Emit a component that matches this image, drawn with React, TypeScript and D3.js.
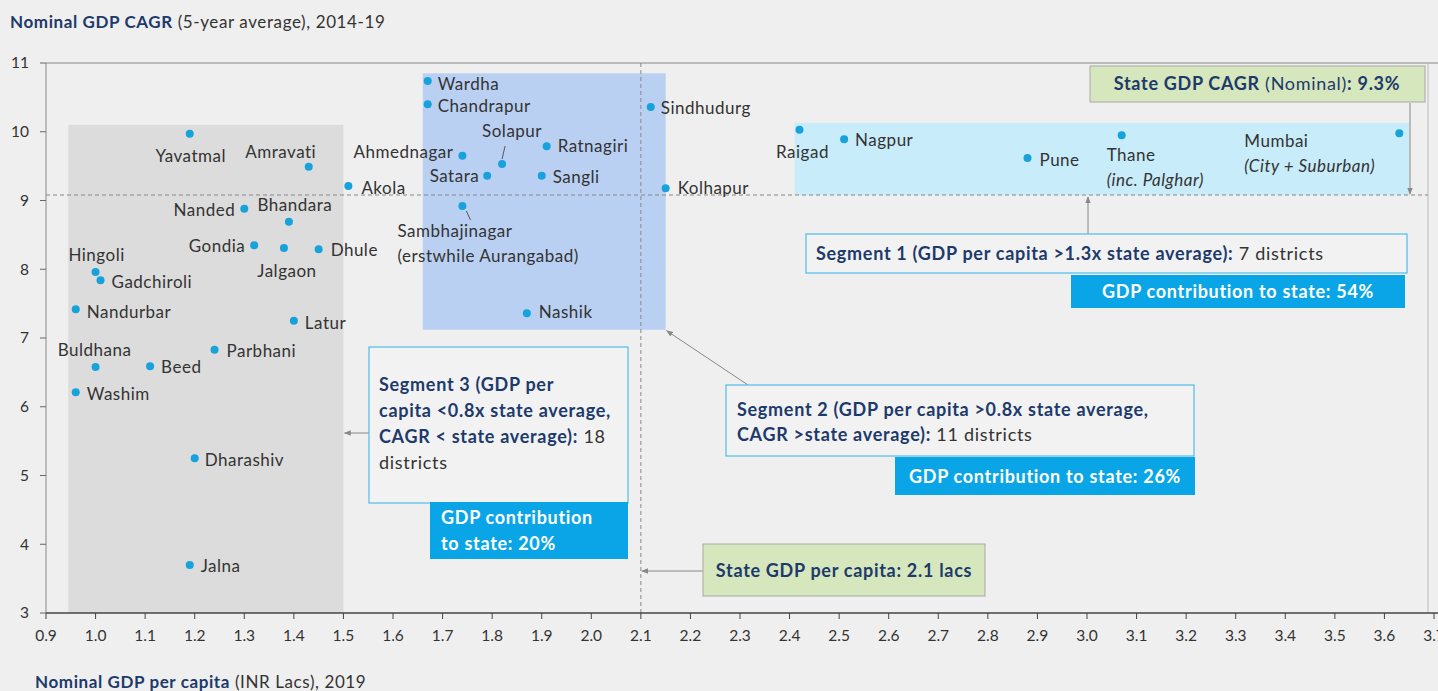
import React from 'react';
import * as d3 from 'd3';

// district data: GDP per capita (INR lacs, 2019) vs nominal GDP CAGR 2014-19
const districts = [
  'Yavatmal', 'Amravati', 'Akola', 'Nanded', 'Bhandara', 'Gondia', 'Jalgaon', 'Dhule',
  'Hingoli', 'Gadchiroli', 'Nandurbar', 'Latur', 'Parbhani', 'Buldhana', 'Beed', 'Washim',
  'Dharashiv', 'Jalna',
  'Wardha', 'Chandrapur', 'Ahmednagar', 'Solapur', 'Satara', 'Ratnagiri', 'Sangli',
  'Sambhajinagar', 'Nashik', 'Sindhudurg', 'Kolhapur',
  'Raigad', 'Nagpur', 'Pune', 'Thane', 'Mumbai',
];
const gdpPerCapita = [
  1.19, 1.43, 1.51, 1.30, 1.39, 1.32, 1.38, 1.45,
  1.00, 1.01, 0.96, 1.40, 1.24, 1.00, 1.11, 0.96,
  1.20, 1.19,
  1.67, 1.67, 1.74, 1.82, 1.79, 1.91, 1.90,
  1.74, 1.87, 2.12, 2.15,
  2.42, 2.51, 2.88, 3.07, 3.63,
];
const cagr = [
  9.97, 9.49, 9.21, 8.88, 8.69, 8.35, 8.31, 8.29,
  7.96, 7.84, 7.42, 7.25, 6.83, 6.58, 6.59, 6.21,
  5.25, 3.70,
  10.74, 10.40, 9.65, 9.53, 9.36, 9.79, 9.36,
  8.92, 7.36, 10.36, 9.18,
  10.03, 9.89, 9.62, 9.95, 9.98,
];
const subLabels: Record<string, string> = {
  Sambhajinagar: '(erstwhile Aurangabad)',
  Thane: '(inc. Palghar)',
  Mumbai: '(City + Suburban)',
};

const xTicks = d3.range(9, 38).map((d) => d / 10);
const yTicks = [3, 4, 5, 6, 7, 8, 9, 10, 11];
const stateCagrLine = 9.08;
const statePerCapita = 2.1;

// segment shading
const segments = [
  { name: 'seg3', x0: 0.945, x1: 1.5, y0: 3, y1: 10.1, fill: '#dcdcdc' },
  { name: 'seg2', x0: 1.66, x1: 2.15, y0: 7.12, y1: 10.85, fill: '#b9d0f2' },
  { name: 'seg1', x0: 2.41, x1: 3.65, y0: 9.08, y1: 10.13, fill: '#c8ecfa' },
];

// label placement relative to each point (pixels)
const labelPos: Record<string, [number, number, string]> = {
  Yavatmal: [1, 22, 'middle'], Amravati: [-28, -15, 'middle'], Akola: [13, 2, 'start'],
  Nanded: [-9, 1, 'end'], Bhandara: [6, -17, 'middle'], Gondia: [-9, 1, 'end'],
  Jalgaon: [3, 23, 'middle'], Dhule: [12, 1, 'start'], Hingoli: [1, -17, 'middle'],
  Gadchiroli: [11, 2, 'start'], Nandurbar: [11, 3, 'start'], Latur: [11, 2, 'start'],
  Parbhani: [12, 1, 'start'], Buldhana: [-1, -17, 'middle'], Beed: [11, 1, 'start'],
  Washim: [11, 2, 'start'], Dharashiv: [10, 2, 'start'], Jalna: [11, 1, 'start'],
  Wardha: [10, 3, 'start'], Chandrapur: [10, 2, 'start'], Ahmednagar: [-9, -4, 'end'],
  Solapur: [10, -33, 'middle'], Satara: [-8, 0, 'end'], Ratnagiri: [11, 0, 'start'],
  Sangli: [11, 1, 'start'], Sambhajinagar: [-65, 25, 'start'], Nashik: [12, -1, 'start'],
  Sindhudurg: [10, 1, 'start'], Kolhapur: [12, 0, 'start'], Raigad: [3, 22, 'middle'],
  Nagpur: [11, 1, 'start'], Pune: [12, 2, 'start'], Thane: [-15, 20, 'start'],
  Mumbai: [-155, 8, 'start'],
};

const W = 1438;
const H = 691;
const NAVY = '#1d3a6b';
const TXT = '#333';
const FONT = 'Lato, "Open Sans", sans-serif';
const BOX_FS = 18;
const BOX_LS = 0.7;

export default function App() {
  const x = d3.scaleLinear().domain([0.9, 3.7]).range([46, 1434]);
  const y = d3.scaleLinear().domain([3, 11]).range([613, 63]);

  const points = districts.map((name, i) => ({ name, px: x(gdpPerCapita[i]), py: y(cagr[i]) }));

  return (
    <div style={{ position: 'absolute', left: 0, top: 0 }}>
      <svg width={W} height={H} style={{ display: 'block', fontFamily: FONT }}>
        <defs>
          <marker id="arr" viewBox="0 0 10 10" refX="9" refY="5" markerWidth="7" markerHeight="7" orient="auto-start-reverse">
            <path d="M0,1 L10,5 L0,9 z" fill="#888" />
          </marker>
        </defs>
        <rect width={W} height={H} fill="#efefef" />

        {/* title */}
        <text x={10} y={28} fontSize={17} letterSpacing={0.6} fill={TXT}>
          <tspan fontWeight="bold" fill={NAVY}>Nominal GDP CAGR</tspan> (5-year average), 2014-19
        </text>

        {/* segment shading */}
        {segments.map((s) => (
          <rect key={s.name} x={x(s.x0)} y={y(s.y1)} width={x(s.x1) - x(s.x0)} height={y(s.y0) - y(s.y1)} fill={s.fill} />
        ))}

        {/* frame */}
        <line x1={x(0.9)} x2={W} y1={y(11)} y2={y(11)} stroke="#888" strokeWidth={1.2} />
        <line x1={1428} x2={1428} y1={y(11)} y2={y(3)} stroke="#bbb" strokeWidth={1} />
        <line x1={x(0.9)} x2={x(0.9)} y1={y(11)} y2={y(3)} stroke="#888" strokeWidth={1} />

        {/* reference lines */}
        <line x1={x(0.9)} x2={1428} y1={y(stateCagrLine)} y2={y(stateCagrLine)} stroke="#888" strokeDasharray="4,3" strokeWidth={1} />
        <line x1={x(statePerCapita)} x2={x(statePerCapita)} y1={y(11)} y2={y(3)} stroke="#888" strokeDasharray="4,3" strokeWidth={1} />

        {/* x axis */}
        <line x1={x(0.9)} x2={W} y1={y(3)} y2={y(3)} stroke="#444" strokeWidth={1.5} />
        {xTicks.map((t) => (
          <g key={t}>
            <line x1={x(t)} x2={x(t)} y1={y(3)} y2={y(3) + 6} stroke="#444" />
            <text x={x(t)} y={641} textAnchor="middle" fontSize={15.5} fill={TXT}>{t.toFixed(1)}</text>
          </g>
        ))}
        {/* y axis */}
        {yTicks.map((t) => (
          <g key={t}>
            <line x1={x(0.9) - 6} x2={x(0.9)} y1={y(t)} y2={y(t)} stroke="#666" />
            <text x={29} y={y(t)} dy="0.35em" textAnchor="end" fontSize={15.5} fill={TXT}>{t}</text>
          </g>
        ))}

        <text x={35} y={688} fontSize={17} letterSpacing={0.6} fill={TXT}>
          <tspan fontWeight="bold" fill={NAVY}>Nominal GDP per capita</tspan> (INR Lacs), 2019
        </text>

        {/* leader lines */}
        <line x1={x(1.82) + 3} y1={y(9.53) - 18} x2={x(1.82)} y2={y(9.53) - 5} stroke="#555" />
        <line x1={x(1.74) + 4} y1={y(8.92) + 5} x2={x(1.74) + 8} y2={y(8.92) + 14} stroke="#555" />

        {/* points & labels */}
        {points.map((p) => {
          const [dx, dy, anchor] = labelPos[p.name];
          const sub = subLabels[p.name];
          return (
            <g key={p.name}>
              <circle cx={p.px} cy={p.py} r={4} fill="#17a2dc" />
              <text x={p.px + dx} y={p.py + dy} dy="0.35em" textAnchor={anchor} fontSize={17} letterSpacing={0.5} fill={TXT}>{p.name}</text>
              {sub && (
                <text x={p.px + dx} y={p.py + dy + 25} dy="0.35em" textAnchor={anchor} fontSize={17} letterSpacing={0.5} fill={TXT}
                  fontStyle={p.name === 'Sambhajinagar' ? 'normal' : 'italic'}>{sub}</text>
              )}
            </g>
          );
        })}

        <g fontSize={BOX_FS} letterSpacing={BOX_LS}>
          {/* State CAGR box */}
          <rect x={1090} y={66} width={335} height={36} fill="#d6e6bd" stroke="#a9a9a9" />
          <text x={1257} y={84} dy="0.35em" textAnchor="middle" fill={NAVY}>
            <tspan fontWeight="bold">State GDP CAGR</tspan> (Nominal)<tspan fontWeight="bold">: 9.3%</tspan>
          </text>
          <line x1={1410} y1={103} x2={1410} y2={y(stateCagrLine) - 1} stroke="#888" markerEnd="url(#arr)" />

          {/* Segment 1 */}
          <line x1={1088} y1={234} x2={1088} y2={y(stateCagrLine) + 2} stroke="#888" markerEnd="url(#arr)" />
          <rect x={806} y={234} width={601} height={39} fill="#f2f2f2" stroke="#4cbfe6" strokeWidth={1.2} />
          <text x={816} y={254} dy="0.35em" fill={TXT}>
            <tspan fontWeight="bold" fill={NAVY}>Segment 1 (GDP per capita &gt;1.3x state average):</tspan> 7 districts
          </text>
          <rect x={1071} y={275} width={334} height={33} fill="#0aa5e6" />
          <text x={1238} y={292} dy="0.35em" textAnchor="middle" fontWeight="bold" fill="#fff">GDP contribution to state: 54%</text>

          {/* Segment 2 */}
          <line x1={748} y1={385} x2={x(2.15) + 1} y2={y(7.12) + 1} stroke="#888" markerEnd="url(#arr)" />
          <rect x={726} y={385} width={468} height={71} fill="#f2f2f2" stroke="#4cbfe6" strokeWidth={1.2} />
          <text x={737} y={410} dy="0.35em" fontWeight="bold" fill={NAVY}>Segment 2 (GDP per capita &gt;0.8x state average,</text>
          <text x={737} y={435} dy="0.35em" fill={TXT}>
            <tspan fontWeight="bold" fill={NAVY}>CAGR &gt;state average):</tspan> 11 districts
          </text>
          <rect x={895} y={457} width={300} height={38} fill="#0aa5e6" />
          <text x={1045} y={477} dy="0.35em" textAnchor="middle" fontWeight="bold" fill="#fff">GDP contribution to state: 26%</text>

          {/* Segment 3 */}
          <line x1={369} y1={433} x2={x(1.5) + 1} y2={433} stroke="#888" markerEnd="url(#arr)" />
          <rect x={369} y={347} width={259} height={156} fill="#f2f2f2" stroke="#4cbfe6" strokeWidth={1.2} />
          <text x={379} y={385} dy="0.35em" fontWeight="bold" fill={NAVY}>Segment 3 (GDP per</text>
          <text x={379} y={411} dy="0.35em" fontWeight="bold" fill={NAVY}>capita &lt;0.8x state average,</text>
          <text x={379} y={437} dy="0.35em" fill={TXT}>
            <tspan fontWeight="bold" fill={NAVY}>CAGR &lt; state average):</tspan> 18
          </text>
          <text x={379} y={463} dy="0.35em" fill={TXT}>districts</text>
          <rect x={430} y={502} width={198} height={57} fill="#0aa5e6" />
          <text x={441} y={518} dy="0.35em" fontWeight="bold" fill="#fff">GDP contribution</text>
          <text x={441} y={544} dy="0.35em" fontWeight="bold" fill="#fff">to state: 20%</text>

          {/* State per capita box */}
          <line x1={703} y1={571} x2={x(statePerCapita) + 1} y2={571} stroke="#888" markerEnd="url(#arr)" />
          <rect x={703} y={544} width={282} height={52} fill="#d6e6bd" stroke="#a9a9a9" />
          <text x={844} y={571} dy="0.35em" textAnchor="middle" fontWeight="bold" fill={NAVY}>State GDP per capita: 2.1 lacs</text>
        </g>
      </svg>
    </div>
  );
}
